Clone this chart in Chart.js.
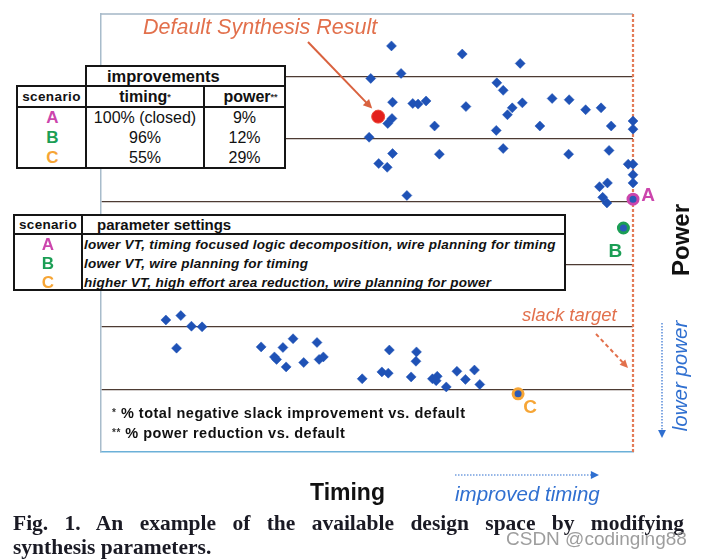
<!DOCTYPE html>
<html><head><meta charset="utf-8">
<script src="https://cdn.jsdelivr.net/npm/chart.js@4.4.0/dist/chart.umd.min.js"></script>
<style>
html,body{margin:0;padding:0;background:#fff;}
#wrap{position:relative;width:701px;height:560px;overflow:hidden;background:#fff;font-family:'Liberation Sans',Arial,sans-serif;color:#111;}
#c{position:absolute;left:0;top:0;}
.abs{position:absolute;white-space:nowrap;}
.cell{position:absolute;box-sizing:border-box;border:2px solid #151515;background:#fff;white-space:nowrap;}
.hd{font-weight:bold;display:flex;align-items:center;}
.sm{font-size:9px;vertical-align:2px;color:#333;}
.dat{text-align:center;font-size:16px;line-height:20px;}
.par{font-weight:bold;font-style:italic;font-size:13.5px;line-height:19px;padding-left:1px;letter-spacing:0.25px;}
.cA{color:#cc45ad}.cB{color:#1b9e55}.cC{color:#f6a535}
.rot{position:absolute;white-space:nowrap;transform:translate(-50%,-50%) rotate(-90deg);}
.cap{position:absolute;left:13px;width:671px;font-family:'Liberation Serif','Times New Roman',serif;font-weight:bold;font-size:21.5px;line-height:24px;color:#1a1a24;white-space:nowrap;}
</style></head>
<body><div id="wrap">
<canvas id="c" width="701" height="560"></canvas>

<!-- improvements table -->
<div class="cell hd" style="left:85px;top:65px;width:201px;height:22px;font-size:16.5px;padding-left:20px;">improvements</div>
<div class="cell hd" style="left:16px;top:85px;width:71px;height:23px;font-size:13.5px;letter-spacing:0.4px;justify-content:center;">scenario</div>
<div class="cell hd" style="left:85px;top:85px;width:120px;height:23px;font-size:16px;justify-content:center;">timing<span class="sm">*</span></div>
<div class="cell hd" style="left:203px;top:85px;width:83px;height:23px;font-size:16px;justify-content:center;padding-left:12px;">power<span class="sm">**</span></div>
<div class="cell dat" style="left:16px;top:106px;width:71px;height:63px;font-weight:bold;font-size:17px;padding-left:2px;">
<div class="cA">A</div><div class="cB">B</div><div class="cC">C</div></div>
<div class="cell dat" style="left:85px;top:106px;width:120px;height:63px;">
<div>100% (closed)</div><div>96%</div><div>55%</div></div>
<div class="cell dat" style="left:203px;top:106px;width:83px;height:63px;">
<div>9%</div><div>12%</div><div>29%</div></div>

<!-- parameter table -->
<div class="cell hd" style="left:13px;top:214px;width:70px;height:21px;font-size:13.5px;letter-spacing:0.3px;justify-content:center;">scenario</div>
<div class="cell hd" style="left:81px;top:214px;width:485px;height:21px;font-size:15px;padding-left:14px;">parameter settings</div>
<div class="cell dat" style="left:13px;top:233px;width:70px;height:58px;font-weight:bold;font-size:17px;line-height:19px;">
<div class="cA">A</div><div class="cB">B</div><div class="cC">C</div></div>
<div class="cell par" style="left:81px;top:233px;width:485px;height:58px;">
<div>lower VT, timing focused logic decomposition, wire planning for timing</div>
<div>lower VT, wire planning for timing</div>
<div>higher VT, high effort area reduction, wire planning for power</div></div>

<!-- footnotes -->
<div class="abs" style="left:112px;top:403px;font-weight:bold;font-size:14.5px;letter-spacing:0.5px;line-height:20px;">
<div><span class="sm" style="font-size:10px">*</span> % total negative slack improvement vs. default</div>
<div><span class="sm" style="font-size:10px">**</span> % power reduction vs. default</div></div>

<!-- axis titles -->
<div class="rot" style="left:681px;top:240px;font-weight:bold;font-size:24px;">Power</div>
<div class="rot" style="left:680px;top:376px;font-style:italic;font-size:20.5px;color:#2f6fd0;">lower power</div>
<div class="abs" style="left:310px;top:479px;font-weight:bold;font-size:23px;">Timing</div>
<div class="abs" style="left:455px;top:482px;font-style:italic;font-size:20.5px;color:#2f6fd0;">improved timing</div>

<!-- caption -->
<div class="cap" style="top:511px;text-align:justify;text-align-last:justify;white-space:normal;">Fig. 1. An example of the available design space by modifying</div>
<div class="cap" style="top:535px;">synthesis parameters.</div>
<div class="abs" style="left:506px;top:528px;font-size:19px;color:rgba(140,140,140,0.85);">CSDN @codinging88</div>
</div>
<script>
// ---- data (timing: 0..100 across plot, power: 0..7 grid units) ----
const powerTicks = [0,1,2,3,4,5,6,7];
const upperTiming = [54.6,67.9,78.8,50.7,56.4,74.4,75.6,54.8,58.6,59.6,61.1,68.6,77.3,76.4,79.2,84.8,88.0,91.1,94.0,54.7,53.9,62.7,82.5,95.9,100,100,50.4,74.3,54.8,63.6,75.6,87.9,95.5,52.2,53.8,99.1,100,100,100,57.5,93.7,95.2,94.3,95.1];
const upperPower  = [6.49,6.36,6.21,5.97,6.05,5.90,5.78,5.59,5.57,5.56,5.61,5.52,5.50,5.39,5.58,5.65,5.63,5.47,5.50,5.33,5.25,5.21,5.21,5.21,5.29,5.16,5.03,5.14,4.77,4.76,4.85,4.76,4.82,4.61,4.55,4.60,4.60,4.43,4.30,4.10,4.24,4.30,4.07,3.98];
const lowerTiming = [12.2,15.0,17.0,19.0,14.2,30.1,34.2,36.1,40.6,32.6,33.0,34.8,38.1,41.0,41.8,54.2,59.3,59.2,49.1,52.8,54.0,58.3,62.3,63.2,63.0,64.9,66.9,68.5,70.2,71.2];
const lowerPower  = [2.11,2.18,2.01,2.00,1.66,1.68,1.67,1.81,1.75,1.52,1.48,1.36,1.43,1.48,1.52,1.63,1.60,1.45,1.17,1.28,1.26,1.20,1.17,1.21,1.14,1.04,1.29,1.16,1.31,1.08];
const defaultTiming = [52.1];
const defaultPower  = [5.36];
const scenarioLabels = ['A','B','C'];
const scenarioTiming = [100,98.2,78.4];
const scenarioPower  = [4.04,3.58,0.93];
const scenarioColors = ['#cc45ad','#1b9e55','#f6a535'];

const pts = (xs,ys)=>xs.map((x,i)=>({x:x,y:ys[i]}));

function arrow(ctx,x1,y1,x2,y2,color,width,dash,head){
  ctx.save();
  ctx.strokeStyle=color;ctx.fillStyle=color;ctx.lineWidth=width;
  ctx.setLineDash(dash||[]);
  const ang=Math.atan2(y2-y1,x2-x1);
  ctx.beginPath();ctx.moveTo(x1,y1);ctx.lineTo(x2-Math.cos(ang)*head*0.8,y2-Math.sin(ang)*head*0.8);ctx.stroke();
  ctx.setLineDash([]);
  ctx.beginPath();
  ctx.moveTo(x2,y2);
  ctx.lineTo(x2-head*Math.cos(ang-0.45),y2-head*Math.sin(ang-0.45));
  ctx.lineTo(x2-head*Math.cos(ang+0.45),y2-head*Math.sin(ang+0.45));
  ctx.closePath();ctx.fill();
  ctx.restore();
}

const deco = {
  id:'deco',
  beforeDatasetsDraw(chart){
    const {ctx,chartArea:a}=chart;
    ctx.save();
    ctx.strokeStyle='#a3b6c6';ctx.lineWidth=1.5;
    ctx.beginPath();ctx.moveTo(a.left,a.top);ctx.lineTo(a.right,a.top);ctx.stroke();
    ctx.strokeStyle='#e37b57';ctx.lineWidth=2.2;ctx.setLineDash([3,2]);
    ctx.beginPath();ctx.moveTo(a.right,a.top);ctx.lineTo(a.right,a.bottom);ctx.stroke();
    ctx.restore();
  },
  afterDatasetsDraw(chart){
    const {ctx,scales:{x,y}}=chart;
    ctx.save();
    ctx.font='italic 21.5px "Liberation Sans", Arial, sans-serif';
    ctx.fillStyle='#e2704c';ctx.textBaseline='middle';ctx.textAlign='left';
    ctx.fillText('Default Synthesis Result',143,28);
    const dx=x.getPixelForValue(defaultTiming[0]), dy=y.getPixelForValue(defaultPower[0]);
    arrow(ctx,308,42,dx-6,dy-8,'#d9623f',2,null,10);
    ctx.font='italic 18.5px "Liberation Sans", Arial, sans-serif';
    ctx.fillStyle='#e2704c';
    ctx.fillText('slack target',522,316);
    arrow(ctx,596,334,628,368,'#e2704c',2,[4,3],9);
    // dotted direction arrows
    arrow(ctx,662,323,662,438,'#2f6fd0',1.2,[1.5,1.5],9);
    arrow(ctx,455,475,599,475,'#2f6fd0',1.2,[1.5,1.5],9);
    // scenario labels
    const off=[[15,-3],[-8,24],[12,14]];
    ctx.font='bold 19px "Liberation Sans", Arial, sans-serif';
    ctx.textAlign='center';
    scenarioLabels.forEach((l,i)=>{
      ctx.fillStyle=scenarioColors[i];
      ctx.fillText(l,x.getPixelForValue(scenarioTiming[i])+off[i][0],y.getPixelForValue(scenarioPower[i])+off[i][1]);
    });
    ctx.restore();
  }
};

new Chart(document.getElementById('c'),{
  type:'scatter',
  data:{datasets:[
    {data:pts(upperTiming,upperPower),pointStyle:'rectRot',radius:5,backgroundColor:'#1f52b6',borderColor:'#1f52b6',borderWidth:0.5},
    {data:pts(lowerTiming,lowerPower),pointStyle:'rectRot',radius:5,backgroundColor:'#1f52b6',borderColor:'#1f52b6',borderWidth:0.5},
    {data:pts(defaultTiming,defaultPower),pointStyle:'circle',radius:6.5,backgroundColor:'#e3201c',borderColor:'#ee4a3a',borderWidth:1},
    {data:pts(scenarioTiming,scenarioPower),pointStyle:'circle',radius:5,backgroundColor:'#2a5ab8',borderColor:scenarioColors,borderWidth:3}
  ]},
  options:{
    responsive:false,animation:false,devicePixelRatio:1,
    layout:{padding:{left:101,top:14,right:68,bottom:108}},
    plugins:{legend:{display:false},tooltip:{enabled:false}},
    elements:{point:{hoverRadius:5}},
    datasets:{scatter:{clip:false}},
    scales:{
      x:{type:'linear',min:0,max:100,ticks:{display:false},grid:{display:false,drawTicks:false},border:{display:true,color:'#6bb0d8',width:1.5}},
      y:{type:'linear',min:0,max:7,afterBuildTicks:(s)=>{s.ticks=powerTicks.map(v=>({value:v}));},ticks:{display:false},
         grid:{drawTicks:false,lineWidth:1.3,color:(c)=>(c.tick&&(c.tick.value===0||c.tick.value===7))?'rgba(0,0,0,0)':'#4d3b33'},
         border:{display:true,color:'#a8bccb',width:1.5}}
    }
  },
  plugins:[deco]
});
</script>
</body></html>
